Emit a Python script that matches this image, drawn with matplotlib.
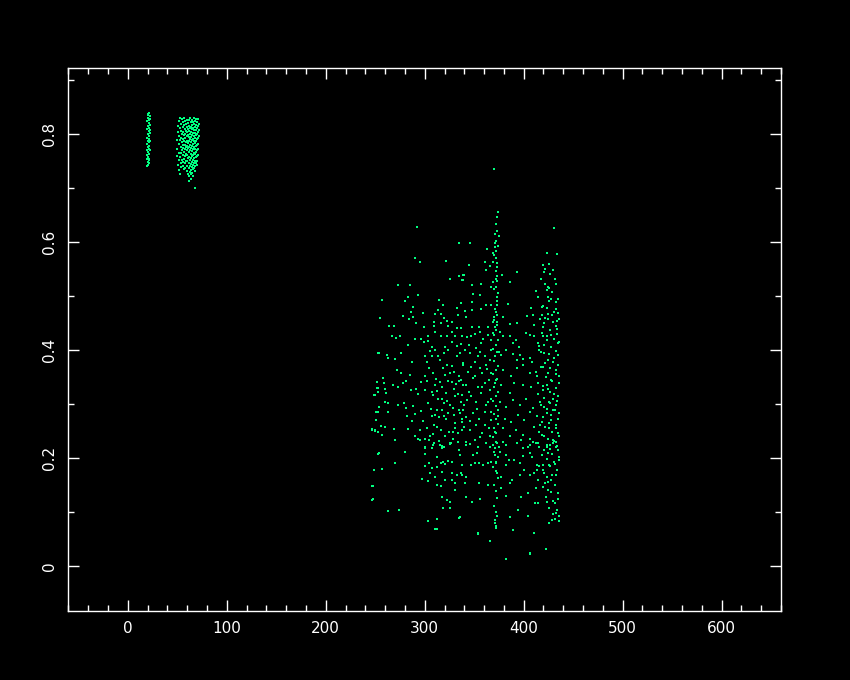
import numpy as np
import matplotlib
matplotlib.use("Agg")
from matplotlib import pyplot as plt
from matplotlib.ticker import MultipleLocator

# narrow band near x=20 : x position of each column and the y values in it
band_a_x = [19, 20, 20.5, 21, 21.5, 22, 22.5]
band_a_y = [
    [0.769, 0.754, 0.740, 0.781, 0.793, 0.808, 0.823, 0.760],
    [0.829, 0.814, 0.799, 0.787, 0.775, 0.748, 0.837],
    [0.835, 0.766, 0.757, 0.742],
    [0.820, 0.805, 0.796, 0.784, 0.772, 0.751],
    [0.838, 0.826, 0.811, 0.790, 0.778, 0.763, 0.754, 0.745],
    [0.832, 0.817, 0.802, 0.787, 0.769],
    [0.828, 0.806],
]

# wider block between x=50 and x=72
band_b_x = [50, 51, 52, 53, 54, 55, 56, 57, 58, 59, 60, 61,
            62, 63, 64, 65, 66, 67, 68, 69, 70, 71, 72]
band_b_y = [
    [0.788, 0.772, 0.759],
    [0.815, 0.803, 0.743],
    [0.823, 0.796, 0.781, 0.765, 0.751, 0.733],
    [0.829, 0.811, 0.789, 0.757, 0.726],
    [0.818, 0.805, 0.792, 0.776, 0.764, 0.745, 0.738],
    [0.827, 0.799, 0.784, 0.769, 0.752],
    [0.822, 0.812, 0.803, 0.791, 0.780, 0.773, 0.761, 0.748, 0.741],
    [0.829, 0.816, 0.797, 0.786, 0.766, 0.754, 0.735],
    [0.824, 0.809, 0.800, 0.792, 0.779, 0.771, 0.758, 0.745, 0.737],
    [0.818, 0.805, 0.784, 0.775, 0.763, 0.750],
    [0.826, 0.813, 0.803, 0.795, 0.787, 0.778, 0.769, 0.760, 0.749, 0.741, 0.731],
    [0.820, 0.808, 0.798, 0.782, 0.773, 0.755, 0.726],
    [0.825, 0.815, 0.805, 0.794, 0.786, 0.776, 0.766, 0.757, 0.746, 0.737, 0.721, 0.713],
    [0.829, 0.811, 0.800, 0.790, 0.780, 0.770, 0.752, 0.741, 0.730],
    [0.822, 0.812, 0.803, 0.794, 0.784, 0.774, 0.763, 0.755, 0.744, 0.733, 0.725, 0.716],
    [0.826, 0.816, 0.808, 0.798, 0.788, 0.778, 0.768, 0.759, 0.748, 0.739, 0.728],
    [0.821, 0.811, 0.801, 0.791, 0.781, 0.771, 0.761, 0.751, 0.742, 0.734, 0.722],
    [0.829, 0.818, 0.806, 0.796, 0.786, 0.775, 0.765, 0.755, 0.745, 0.737],
    [0.823, 0.813, 0.802, 0.792, 0.782, 0.772, 0.762, 0.750, 0.740, 0.731, 0.700],
    [0.828, 0.817, 0.807, 0.797, 0.787, 0.777, 0.767, 0.757, 0.746],
    [0.822, 0.810, 0.800, 0.790, 0.779, 0.769, 0.759, 0.750, 0.742],
    [0.827, 0.814, 0.803, 0.793, 0.781, 0.771, 0.761],
    [0.818, 0.806, 0.795],
]

# big cloud, upper part (y > 0.44)
cloud_top = [
    (292, 0.628), (335, 0.598), (290, 0.571), (295, 0.563), (322, 0.565), (339, 0.539),
    (335, 0.537), (326, 0.531), (339, 0.530), (273, 0.520), (285, 0.520), (293, 0.502),
    (257, 0.493), (283, 0.498), (280, 0.491), (314, 0.493), (337, 0.487), (318, 0.483),
    (288, 0.480), (333, 0.478), (286, 0.470), (298, 0.469), (313, 0.474), (310, 0.467),
    (316, 0.467), (255, 0.459), (278, 0.463), (288, 0.461), (319, 0.459), (334, 0.465),
    (284, 0.457), (291, 0.450), (309, 0.452), (316, 0.450), (323, 0.454), (328, 0.452),
    (264, 0.444), (269, 0.444), (299, 0.443), (309, 0.444), (324, 0.444), (333, 0.441),
    (337, 0.441), (370, 0.735),
    (374, 0.656), (373, 0.646), (431, 0.626), (373, 0.620), (375, 0.611), (372, 0.602),
    (371, 0.598), (346, 0.598), (371, 0.591), (363, 0.587), (369, 0.580), (372, 0.570),
    (361, 0.563), (369, 0.563), (373, 0.561), (345, 0.557), (366, 0.556), (424, 0.580),
    (434, 0.578), (420, 0.557), (426, 0.559), (422, 0.550), (362, 0.548), (372, 0.546),
    (393, 0.544), (427, 0.541), (340, 0.539), (373, 0.537), (378, 0.539), (338, 0.530),
    (373, 0.528), (369, 0.526), (386, 0.526), (432, 0.531), (422, 0.522), (348, 0.520),
    (357, 0.522), (367, 0.517), (372, 0.517), (425, 0.517), (424, 0.511), (412, 0.509),
    (429, 0.507), (349, 0.504), (356, 0.502), (373, 0.498), (414, 0.498), (425, 0.498),
    (435, 0.494), (373, 0.491), (426, 0.491), (337, 0.487), (348, 0.489), (384, 0.485),
    (362, 0.483), (367, 0.483), (373, 0.483), (418, 0.480), (424, 0.478), (433, 0.476),
    (407, 0.478), (435, 0.469), (341, 0.472), (348, 0.474), (357, 0.476), (371, 0.476),
    (379, 0.461), (370, 0.461), (373, 0.465), (418, 0.465), (422, 0.459), (429, 0.465),
    (403, 0.463), (409, 0.465), (342, 0.461), (425, 0.457), (434, 0.454), (386, 0.448),
    (393, 0.450), (373, 0.452), (369, 0.452), (355, 0.443), (348, 0.443), (410, 0.446),
    (420, 0.443), (433, 0.444), (371, 0.443), (364, 0.443),
]

# big cloud, left half of the middle (x < 340, 0.22 < y < 0.44)
cloud_mid_left = [
    (266.6, 0.426), (270.6, 0.422), (275, 0.426), (283.4, 0.409), (290.1, 0.420),
    (296.1, 0.420), (303.5, 0.426), (310.9, 0.434), (316.3, 0.426), (322.4, 0.425),
    (327.7, 0.434), (330.4, 0.426), (299.5, 0.415), (302.9, 0.417), (306.9, 0.405),
    (310.3, 0.400), (320.3, 0.406), (327.7, 0.415), (332.4, 0.407), (337.1, 0.411),
    (254.1, 0.395), (261.5, 0.391), (263.2, 0.385), (269.9, 0.383), (275.7, 0.394),
    (286.7, 0.378), (300.2, 0.388), (301.9, 0.378), (306.9, 0.389), (315.6, 0.381),
    (319.7, 0.395), (323.7, 0.399), (322.4, 0.372), (327.7, 0.370), (332.4, 0.388),
    (338.8, 0.375), (329.7, 0.360), (334.5, 0.352), (272, 0.363), (276, 0.357),
    (285.4, 0.354), (300.2, 0.351), (301.9, 0.343), (307.9, 0.358), (310.3, 0.335),
    (315.3, 0.341), (320.3, 0.354), (323.7, 0.343), (327.7, 0.340), (332.1, 0.337),
    (335.1, 0.343), (338.8, 0.335), (258.2, 0.348), (251.5, 0.341), (259.2, 0.338),
    (267.6, 0.336), (278.3, 0.338), (280.7, 0.343), (251.8, 0.329), (259.9, 0.327),
    (253.1, 0.322), (260.5, 0.320), (249.1, 0.317), (273.3, 0.332), (285.7, 0.325),
    (291.1, 0.327), (292.8, 0.319), (300.2, 0.325), (306.9, 0.323), (308.6, 0.317),
    (312.9, 0.324), (317, 0.331), (322, 0.320), (317, 0.310), (323, 0.306),
    (319.7, 0.302), (330.4, 0.314), (333.8, 0.319), (337.1, 0.304), (339.8, 0.298),
    (328.7, 0.292), (334.5, 0.289), (259.9, 0.304), (263.2, 0.301), (273.3, 0.298),
    (279.3, 0.302), (281, 0.292), (253.8, 0.295), (253.1, 0.286), (263.2, 0.286),
    (290.1, 0.282), (306.2, 0.290), (312, 0.289), (317, 0.289), (323.7, 0.283),
    (329.7, 0.279), (335.5, 0.283), (337.8, 0.273), (307.6, 0.277), (310.9, 0.279),
    (314.3, 0.275), (322, 0.273), (330.4, 0.265), (337.8, 0.267), (281.7, 0.277),
    (286.7, 0.269), (250.8, 0.270), (246.4, 0.253), (249.8, 0.252), (255.8, 0.259),
    (259.9, 0.257), (253.1, 0.248), (256.5, 0.242), (269.3, 0.254), (283.4, 0.253),
    (290.1, 0.240), (295.1, 0.252), (301.9, 0.256), (305.2, 0.240), (308.6, 0.244),
    (312, 0.258), (316.3, 0.252), (320.3, 0.241), (324.4, 0.249), (328.7, 0.249),
    (333.8, 0.246), (337.8, 0.252), (269.9, 0.233), (293.5, 0.236), (300.2, 0.236),
    (304.2, 0.233), (309.6, 0.227), (315.3, 0.224), (325.4, 0.227), (328.7, 0.236),
    (333.8, 0.230), (319.7, 0.221), (317.6, 0.218), (300.8, 0.220), (306.9, 0.218),
    (252.8, 0.394), (251.7, 0.341), (252.8, 0.330), (249.7, 0.317), (250.7, 0.285),
    (250.7, 0.270), (246.7, 0.252), (249.7, 0.250), (252.8, 0.248), (253.8, 0.209),
    (248.7, 0.178), (247.7, 0.148), (247.7, 0.124),
    (305, 0.398), (313, 0.388), (318, 0.367), (326, 0.357), (304, 0.366), (296, 0.340),
    (311, 0.347), (330, 0.327), (313, 0.309), (326, 0.298), (303, 0.302), (296, 0.287),
    (319, 0.278), (331, 0.256), (309, 0.262), (298, 0.268), (288, 0.296), (336, 0.394),
]

# big cloud, right half of the middle (x > 335, 0.22 < y < 0.44)
cloud_mid_right = [
    (338, 0.425), (342.7, 0.423), (347, 0.426), (350.4, 0.430), (355.5, 0.434),
    (357.1, 0.412), (358.8, 0.420), (363.9, 0.428), (368.9, 0.431), (375.6, 0.434),
    (379, 0.426), (385.7, 0.425), (389, 0.412), (392.4, 0.418), (395.1, 0.406),
    (402.5, 0.431), (405.9, 0.428), (410.9, 0.425), (414.3, 0.412), (419.3, 0.425),
    (423.3, 0.418), (427.7, 0.428), (433.4, 0.430), (434.8, 0.412), (340.3, 0.400),
    (345.4, 0.394), (352.1, 0.403), (350.4, 0.378), (353.8, 0.388), (360.5, 0.389),
    (365.5, 0.381), (367.2, 0.400), (374.9, 0.397), (377.3, 0.391), (382.3, 0.400),
    (389, 0.393), (393.1, 0.381), (395.8, 0.391), (399.1, 0.383), (405.9, 0.385),
    (408.5, 0.378), (415.9, 0.400), (421, 0.394), (424.3, 0.381), (431.1, 0.385),
    (434.4, 0.391), (338.7, 0.372), (343.7, 0.360), (347, 0.369), (355.5, 0.366),
    (358.1, 0.357), (362.2, 0.372), (367.2, 0.357), (379, 0.363), (387.4, 0.351),
    (393.1, 0.366), (399.1, 0.372), (405.9, 0.357), (412.6, 0.360), (417.6, 0.369),
    (422, 0.375), (424.3, 0.357), (427.7, 0.344), (432.7, 0.363), (435.4, 0.351),
    (337, 0.344), (342, 0.335), (348.7, 0.348), (353.8, 0.332), (360.5, 0.338),
    (365.5, 0.326), (372.3, 0.344), (377.3, 0.335), (385.7, 0.320), (390.7, 0.338),
    (399.1, 0.335), (407.5, 0.332), (414.3, 0.338), (419.3, 0.326), (423.3, 0.335),
    (426.7, 0.323), (432.7, 0.329), (434.4, 0.314), (338, 0.317), (342.7, 0.307),
    (347, 0.314), (352.1, 0.304), (357.1, 0.320), (361.5, 0.298), (367.2, 0.310),
    (375.6, 0.304), (382.3, 0.295), (389, 0.307), (395.8, 0.298), (402.5, 0.310),
    (409.2, 0.292), (416.6, 0.304), (421, 0.295), (426, 0.304), (429.4, 0.289),
    (432.7, 0.298), (435.4, 0.283), (338.7, 0.289), (342, 0.275), (348.7, 0.283),
    (354.8, 0.273), (360.5, 0.286), (367.2, 0.270), (373.9, 0.278), (380.7, 0.273),
    (387.4, 0.267), (394.1, 0.280), (400.8, 0.270), (405.9, 0.286), (413.3, 0.277),
    (418.6, 0.267), (423.3, 0.283), (427.7, 0.270), (432.7, 0.261), (339.3, 0.258),
    (345.4, 0.252), (352.1, 0.261), (358.1, 0.246), (364.9, 0.255), (370.6, 0.249),
    (379, 0.255), (385.7, 0.240), (392.4, 0.252), (399.1, 0.243), (406.5, 0.236),
    (410.9, 0.258), (415.9, 0.249), (421, 0.240), (425.3, 0.255), (429.4, 0.233),
    (434.4, 0.246), (342, 0.230), (350.4, 0.233), (362.2, 0.227), (372.3, 0.230),
    (382.3, 0.224), (397.5, 0.233), (404.2, 0.221), (412.6, 0.227), (423.3, 0.224),
    (432.7, 0.221),
    (345, 0.410), (356, 0.396), (363, 0.365), (351, 0.352), (358, 0.331), (345, 0.322),
    (364, 0.304), (353, 0.290), (346, 0.268), (361, 0.262), (356, 0.238), (366, 0.240),
    (367, 0.418), (365, 0.345), (367, 0.286),
]

# big cloud, lower part (y < 0.235)
cloud_low = [
    (253.1, 0.207), (248.4, 0.178), (257.2, 0.179), (269.9, 0.190), (280, 0.212),
    (295.1, 0.233), (300.2, 0.218), (300.8, 0.207), (308.6, 0.224), (312, 0.202),
    (314.3, 0.232), (317, 0.222), (325.4, 0.226), (327, 0.228), (334.5, 0.215),
    (335.5, 0.206), (304.5, 0.191), (300.2, 0.185), (306.9, 0.181), (312, 0.184),
    (316.3, 0.190), (320.3, 0.189), (318.7, 0.193), (323.7, 0.195), (327.7, 0.193),
    (337.8, 0.187), (305.6, 0.172), (310.3, 0.164), (317.6, 0.174), (327.7, 0.172),
    (332.8, 0.169), (337.8, 0.169), (296.8, 0.162), (302.9, 0.157), (312.9, 0.151),
    (316.3, 0.149), (320.3, 0.159), (327.7, 0.159), (331.1, 0.153), (331.1, 0.141),
    (247.1, 0.149), (247.1, 0.123), (262.5, 0.102), (274, 0.103), (317, 0.128),
    (323, 0.123), (325.4, 0.119), (318, 0.108), (325.4, 0.108), (335.5, 0.090),
    (302.9, 0.084), (312.9, 0.088), (310.9, 0.069), (353.5, 0.061), (365.5, 0.046),
    (382.6, 0.013), (423, 0.032), (406, 0.024), (335, 0.089), (312, 0.069),
    (341.3, 0.224), (345.4, 0.226), (348.7, 0.206), (352.8, 0.209), (353.8, 0.221),
    (361.5, 0.228), (365.5, 0.221), (368.9, 0.224), (370.6, 0.206), (374.9, 0.220),
    (375.6, 0.212), (379, 0.230), (382.3, 0.206), (385, 0.196), (390.7, 0.196),
    (393.1, 0.227), (395.8, 0.191), (399.8, 0.204), (399.8, 0.218), (405.9, 0.224),
    (405.9, 0.209), (408.5, 0.202), (409.9, 0.230), (413.3, 0.187), (415.9, 0.221),
    (419.3, 0.187), (423.3, 0.221), (424.3, 0.209), (426.7, 0.216), (429.4, 0.227),
    (432.7, 0.230), (434.8, 0.215), (425.3, 0.187), (432.1, 0.189), (436, 0.196),
    (338, 0.187), (342, 0.165), (347, 0.187), (350.4, 0.190), (354.8, 0.191),
    (358.8, 0.187), (363.9, 0.190), (367.2, 0.193), (371.6, 0.191), (372.9, 0.172),
    (377.3, 0.165), (382.3, 0.187), (385.7, 0.154), (388.4, 0.160), (396.5, 0.169),
    (400.8, 0.178), (406.5, 0.169), (410.9, 0.172), (415.9, 0.185), (414.3, 0.159),
    (419.3, 0.178), (422, 0.153), (423.3, 0.165), (424.3, 0.141), (427.7, 0.159),
    (432.7, 0.169), (434.4, 0.125), (432.1, 0.116), (433.4, 0.104), (430.1, 0.096),
    (337, 0.172), (340.3, 0.153), (354.5, 0.154), (363.9, 0.150), (377.3, 0.145),
    (341.3, 0.128), (348, 0.119), (356.1, 0.125), (381.7, 0.130), (397.5, 0.127),
    (404.2, 0.136), (414.3, 0.116), (423.3, 0.119), (372.3, 0.074), (370.6, 0.085),
    (385.7, 0.091), (404.2, 0.093), (425.3, 0.079), (435.4, 0.084), (432.1, 0.088),
    (394.1, 0.104), (389.7, 0.066), (365.5, 0.047), (353.8, 0.059), (422.7, 0.032),
    (382.3, 0.014), (406.5, 0.022), (335.3, 0.090),
]

# the thin vertical streak near x=372
streak = [
    (372, 0.633), (371, 0.615), (374, 0.593), (372, 0.583), (370, 0.575), (373, 0.553),
    (372, 0.532), (370, 0.512), (374, 0.505), (372, 0.470), (370, 0.456), (373, 0.447),
    (372, 0.436), (370, 0.428), (374, 0.419), (372, 0.409), (369, 0.402), (373, 0.396),
    (371, 0.388), (370, 0.379), (374, 0.371), (372, 0.362), (369, 0.355), (373, 0.347),
    (371, 0.339), (370, 0.331), (374, 0.322), (372, 0.315), (369, 0.306), (372, 0.297),
    (374, 0.288), (370, 0.281), (372, 0.272), (374, 0.263), (370, 0.255), (372, 0.246),
    (369, 0.238), (373, 0.228), (371, 0.219), (370, 0.211), (374, 0.201), (372, 0.193),
    (369, 0.184), (372, 0.176), (374, 0.163), (370, 0.151), (372, 0.139), (373, 0.126),
    (370, 0.112), (372, 0.101), (373, 0.092), (371, 0.080), (372, 0.071),
]

# the crowded right edge of the cloud (x 410-436)
right_edge = [
    (428, 0.495), (433, 0.488), (419, 0.482), (431, 0.471), (425, 0.466), (436, 0.458),
    (421, 0.449), (430, 0.452), (427, 0.437), (434, 0.439), (418, 0.432), (424, 0.426),
    (431, 0.421), (436, 0.415), (421, 0.409), (428, 0.405), (433, 0.398), (417, 0.397),
    (426, 0.392), (430, 0.378), (435, 0.372), (420, 0.368), (427, 0.366), (433, 0.356),
    (423, 0.349), (429, 0.342), (436, 0.338), (419, 0.333), (425, 0.328), (431, 0.318),
    (434, 0.305), (421, 0.311), (427, 0.302), (430, 0.309), (417, 0.299), (424, 0.290),
    (432, 0.288), (428, 0.280), (435, 0.272), (420, 0.275), (426, 0.264), (433, 0.255),
    (422, 0.258), (429, 0.249), (436, 0.241), (418, 0.242), (425, 0.236), (431, 0.231),
    (427, 0.225), (434, 0.222), (421, 0.215), (429, 0.207), (436, 0.201), (424, 0.198),
    (431, 0.193), (418, 0.205), (427, 0.185), (434, 0.178), (421, 0.172), (429, 0.168),
    (425, 0.156), (432, 0.151), (419, 0.146), (428, 0.138), (435, 0.135), (423, 0.128),
    (430, 0.121), (426, 0.108), (433, 0.098), (429, 0.085), (436, 0.092), (416, 0.262),
    (414, 0.318), (413, 0.352), (415, 0.408), (416, 0.458), (414, 0.228), (413, 0.178),
    (412, 0.145), (411, 0.117), (410, 0.062), (417, 0.532), (421, 0.545), (426, 0.515),
    (433, 0.522), (430, 0.548),
]

x_major = 100
x_minor = 20
y_major = 0.2
y_minor = 0.1

green = '#00ff80'

# flatten the column lists
ax_pts = [(x, y) for x, ys in zip(band_a_x, band_a_y) for y in ys]
bx_pts = [(x, y) for x, ys in zip(band_b_x, band_b_y) for y in ys]

fig = plt.figure(figsize=(8.5, 6.8), dpi=100, facecolor='black')
ax = fig.add_axes([0.0804, 0.1015, 0.8385, 0.798])
ax.set_facecolor('black')

for pts in [ax_pts, bx_pts, cloud_top, cloud_mid_left, cloud_mid_right,
            cloud_low, streak, right_edge]:
    px, py = zip(*pts)
    ax.plot(px, py, 's', ms=1.8, mew=0, color=green, linestyle='none')

ax.set_xlim(-60, 660)
ax.set_ylim(-0.083, 0.921)

ax.xaxis.set_major_locator(MultipleLocator(x_major))
ax.xaxis.set_minor_locator(MultipleLocator(x_minor))
ax.yaxis.set_major_locator(MultipleLocator(y_major))
ax.yaxis.set_minor_locator(MultipleLocator(y_minor))
ax.yaxis.set_major_formatter(plt.FuncFormatter(lambda v, p: '0' if abs(v) < 1e-9 else '%g' % round(v, 1)))

for s in ax.spines.values():
    s.set_color('white')
    s.set_linewidth(1)

ax.tick_params(which='both', direction='in', top=True, right=True,
               color='white', labelcolor='white', width=1, labelsize=11)
ax.tick_params(which='major', length=8)
ax.tick_params(which='minor', length=4)
ax.tick_params(axis='x', pad=7)
ax.tick_params(axis='y', pad=8, labelrotation=90)
for lbl in ax.get_yticklabels():
    lbl.set_va('center')

fig.savefig('out.png', dpi=100, facecolor='black')
